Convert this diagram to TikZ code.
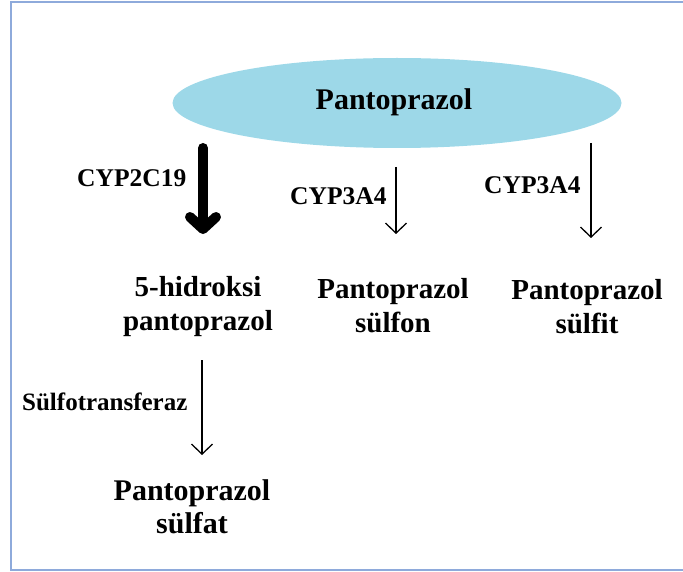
\documentclass[tikz,border=0pt]{standalone}
\usepackage{fontspec}
\setmainfont{Liberation Serif}
\usetikzlibrary{arrows.meta,shapes.geometric}
\definecolor{frameblue}{RGB}{142,170,219}
\definecolor{ellblue}{RGB}{157,216,232}
\tikzset{
  lbl/.style={font=\bfseries\fontsize{25.5}{28}\selectfont, inner sep=0pt, anchor=base west},
  prod/.style={font=\bfseries\fontsize{29}{34}\selectfont, inner sep=0pt, align=center, anchor=base},
  bigarr/.style={line width=10pt, line cap=round, -{Straight Barb[length=12pt,width=26pt,line cap=round,line join=round]}},
  thinarr/.style={line width=1.3pt, -{Straight Barb[length=10pt,width=21pt]}}
}
\begin{document}
\begin{tikzpicture}[x=1pt,y=-1pt]
\useasboundingbox (0,0) rectangle (683,572);
% frame
\draw[frameblue, line width=2pt] (683,2) -- (11,2) -- (11,570) -- (683,570);
% ellipse
\node[ellipse, fill=ellblue, minimum width=449pt, minimum height=90pt, inner sep=0pt] (ell) at (397,103) {};
\node[font=\bfseries\fontsize{30}{34}\selectfont, inner sep=0pt, anchor=base] (pan) at (394,110) {Pantoprazol};
% products (base anchor = baseline of last line)
\node[prod] (hid) at (198,330) {5-hidroksi\\pantoprazol};
\node[prod] (sfon) at (393,332) {Pantoprazol\\sülfon};
\node[prod] (sfit) at (587,333) {Pantoprazol\\sülfit};
\node[prod, font=\bfseries\fontsize{30}{33}\selectfont] (sfat) at (192,533) {Pantoprazol\\sülfat};
% enzyme labels
\node[lbl] (c219) at (77,187) {CYP2C19};
\node[lbl] (c3a) at (290,205) {CYP3A4};
\node[lbl] (c3b) at (484,194) {CYP3A4};
\node[lbl, font=\bfseries\fontsize{25}{28}\selectfont] (sult) at (22,410) {Sülfotransferaz};
% arrow endpoints
\coordinate (a1s) at (203,148); \coordinate (a1e) at (203,234);
\coordinate (a2s) at (396,167); \coordinate (a2e) at (396,234);
\coordinate (a3s) at (591,143); \coordinate (a3e) at (591,238);
\coordinate (a4s) at (202,360); \coordinate (a4e) at (202,455);
\draw[bigarr] (a1s) -- (a1e);
\draw[thinarr] (a2s) -- (a2e);
\draw[thinarr] (a3s) -- (a3e);
\draw[thinarr] (a4s) -- (a4e);
\end{tikzpicture}
\end{document}
